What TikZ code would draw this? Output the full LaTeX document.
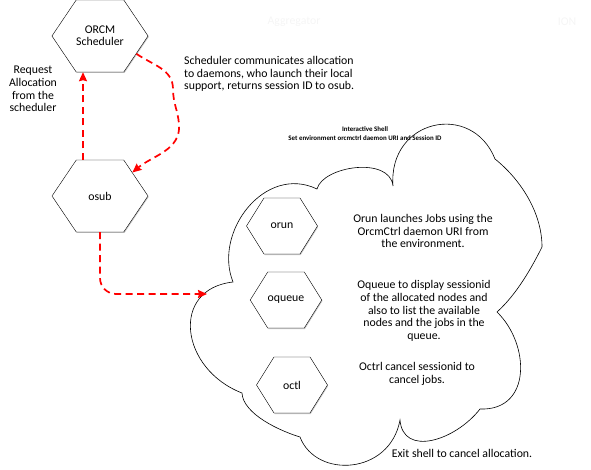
\documentclass[tikz,border=0pt]{standalone}
\usepackage{fontspec}
\setmainfont{Carlito}
\usetikzlibrary{shapes.symbols,arrows.meta,shadows}

\begin{document}
\begin{tikzpicture}
[
x=1pt,y=1pt,
font=\fontsize{11.8}{12.6}\selectfont,
hexbox/.style={draw,fill=white,signal,signal to=east and west,inner sep=0pt,align=center,
  drop shadow={shadow xshift=0.7pt,shadow yshift=-1pt,opacity=0.45}},
bighex/.style={hexbox,signal pointer angle=112,minimum width=96pt,minimum height=72pt},
smallhex/.style={hexbox,signal pointer angle=116,minimum width=71pt,minimum height=56pt},
note/.style={align=center,inner sep=0pt},
redflow/.style={draw=red,line width=1.7pt,dash pattern=on 7pt off 4.5pt,
  -{Stealth[length=9pt,width=8pt,inset=1pt]}},
]
\useasboundingbox (0,0) rectangle (591,469);

%Faint header
\node[note,text=black!4] (aggr) at (294,447) {Aggregator};
\node[note,text=black!4] (ion) at (567,447) {ION};

%The shell cloud
\draw[line width=0.6pt]
  (317,280) .. controls (323,303) and (390,313) .. (393,283)
  .. controls (388,350) and (472,368) .. (495,310)
  .. controls (520,290) and (542,257) .. (542,222)
  .. controls (532,202) and (517,175) .. (497,157)
  .. controls (530,125) and (532,58) .. (480,60)
  .. controls (455,28) and (403,12) .. (400,49)
  .. controls (390,-6) and (316,-10) .. (300,32)
  .. controls (280,38) and (243,55) .. (242,76)
  .. controls (180,100) and (170,180) .. (233,187)
  .. controls (213,237) and (265,305) .. (317,280) -- cycle;
\coordinate (cloudL) at (207,175);

%Place the nodes
\node[bighex] (orcm) at (100,433) {ORCM\\[-1pt]Scheduler};
\node[bighex] (osub) at (100,273) {osub};
\node[smallhex] (orun) at (282,243) {orun};
\node[smallhex] (oqueue) at (286,169) {oqueue};
\node[smallhex] (octl) at (292,84) {octl};

%Place the texts
\node[note] (request) at (33,380) {Request\\Allocation\\from the\\scheduler};
\node[note,align=left,anchor=west] (schednote) at (184,395)
  {Scheduler communicates allocation\\to daemons, who launch their local\\support, returns session ID to osub.};
\node[note,font=\fontsize{6.9}{8.8}\selectfont\bfseries] (shell) at (365,335)
  {Interactive Shell\\Set environment orcmctrl daemon URI and Session ID};
\node[note] (orunnote) at (423,238)
  {Orun launches Jobs using the\\OrcmCtrl daemon URI from\\the environment.};
\node[note] (oqueuenote) at (424,158)
  {Oqueue to display sessionid\\of the allocated nodes and\\also to list the available\\nodes and the jobs in the\\queue.};
\node[note] (octlnote) at (417,95) {Octrl cancel sessionid to\\cancel jobs.};
\node[note] (exitnote) at (462,16) {Exit shell to cancel allocation.};

%Draw the connections
\draw[redflow] ([xshift=-17pt]osub.north) -- ([xshift=-17pt]orcm.south);
\draw[redflow] (orcm.-26) to[out=-35,in=90] (173,380) to[out=-90,in=95] (179,345)
  to[out=-85,in=40] (osub.36);
\draw[redflow,rounded corners=16pt] (osub.south) |- (cloudL);
\end{tikzpicture}
\end{document}
